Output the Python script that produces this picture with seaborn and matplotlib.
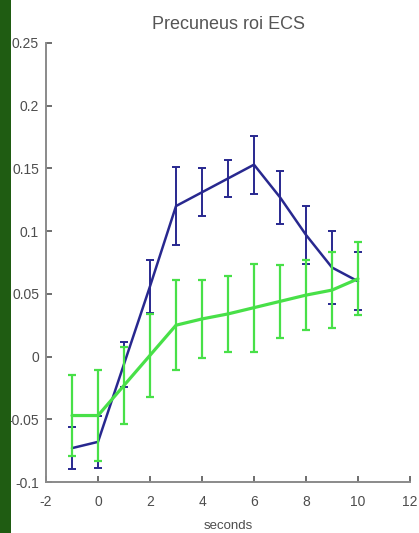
import numpy as np
import pandas as pd
import matplotlib
matplotlib.use("Agg")
import matplotlib.pyplot as plt
import seaborn as sns
from matplotlib.patches import Rectangle

# ---- data ----
seconds = [-1, 0, 1, 2, 3, 4, 5, 6, 7, 8, 9, 10]
blue_mean = [-0.073, -0.068, -0.006, 0.056, 0.120, 0.131, 0.142, 0.153, 0.127, 0.097, 0.071, 0.060]
blue_err = [0.017, 0.021, 0.018, 0.021, 0.031, 0.019, 0.015, 0.023, 0.021, 0.023, 0.029, 0.023]
green_mean = [-0.047, -0.047, -0.023, 0.001, 0.025, 0.030, 0.034, 0.039, 0.044, 0.049, 0.053, 0.062]
green_err = [0.032, 0.036, 0.031, 0.033, 0.036, 0.031, 0.030, 0.035, 0.029, 0.028, 0.030, 0.029]
x_ticks = [-2, 0, 2, 4, 6, 8, 10, 12]
y_ticks = [-0.1, -0.05, 0, 0.05, 0.1, 0.15, 0.2, 0.25]
y_tick_labels = ["-0.1", "-0.05", "0", "0.05", "0.1", "0.15", "0.2", "0.25"]
title = "Precuneus roi ECS"
xlabel = "seconds"

sns.set_theme(style="white")
plt.rcParams["font.family"] = ["Liberation Sans", "DejaVu Sans"]
plt.rcParams["axes.unicode_minus"] = False

BLUE = "#28288f"
GREEN = "#48e048"
GRAY_TXT = "#4d4d4d"
SPINE = "#8a8a8a"

fig = plt.figure(figsize=(4.19, 5.33), dpi=100)
fig.patch.set_facecolor("white")
ax = fig.add_axes([46 / 419, 1 - 482 / 533, (410 - 46) / 419, (482 - 43) / 533])
ax.set_facecolor("white")

df = pd.DataFrame({"seconds": seconds, "blue": blue_mean, "green": green_mean})

ax.errorbar(seconds, blue_mean, yerr=blue_err, fmt="none", ecolor=BLUE,
            elinewidth=1.4, capsize=3, capthick=1.4, zorder=2)
sns.lineplot(data=df, x="seconds", y="blue", color=BLUE, linewidth=1.8, ax=ax, zorder=3)
ax.errorbar(seconds, green_mean, yerr=green_err, fmt="none", ecolor=GREEN,
            elinewidth=1.6, capsize=3, capthick=1.6, zorder=4)
sns.lineplot(data=df, x="seconds", y="green", color=GREEN, linewidth=2.3, ax=ax, zorder=5)

ax.set_xlim(-2, 12)
ax.set_ylim(-0.1, 0.25)
ax.set_xticks(x_ticks)
ax.set_xticklabels([str(t) for t in x_ticks])
ax.set_yticks(y_ticks)
ax.set_yticklabels(y_tick_labels)

for s in ["top", "right"]:
    ax.spines[s].set_visible(False)
for s in ["left", "bottom"]:
    ax.spines[s].set_color(SPINE)
    ax.spines[s].set_linewidth(1.4)

ax.tick_params(axis="both", direction="in", length=4, width=1.2, color="#555555",
               labelsize=10, labelcolor=GRAY_TXT, left=True, bottom=True)
ax.tick_params(axis="y", pad=5)
ax.tick_params(axis="x", pad=9)
ax.set_xlabel(xlabel, fontsize=9.5, color=GRAY_TXT, labelpad=8)
ax.set_ylabel("")
ax.set_title(title, fontsize=13, color="#555555", pad=10)

# dark green strip on the left edge of the picture
fig.add_artist(Rectangle((0, 0), 11 / 419, 1, transform=fig.transFigure,
                         facecolor="#1f5c12", edgecolor="none", zorder=10))

fig.savefig("out.png", dpi=100, facecolor="white")
